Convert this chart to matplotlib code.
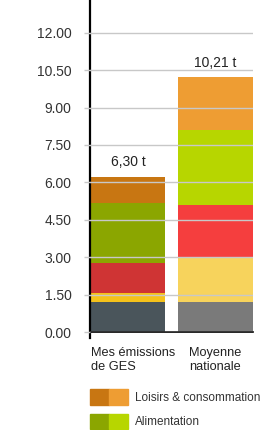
import matplotlib
matplotlib.use("Agg")
import matplotlib.pyplot as plt
import matplotlib.transforms as mtransforms
from matplotlib.patches import Patch
from matplotlib.legend_handler import HandlerTuple

plt.rcParams["font.family"] = ["Liberation Sans", "DejaVu Sans"]

# -------------------------------------------------
# data (t CO2e)
# -------------------------------------------------
bars = ["Mes émissions\nde GES", "Moyenne\nnationale"]
totals = ["6,30 t", "10,21 t"]

# segments from bottom to top
segments = ["Transports", "Logement", "Services", "Alimentation", "Loisirs & consommation"]
mine = [1.20, 0.36, 1.21, 2.40, 1.05]
national = [1.20, 1.80, 2.10, 3.01, 2.10]

colors_mine = ["#4a555b", "#f5c21b", "#cf3434", "#8ba600", "#c87612"]
colors_nat = ["#7a7a7a", "#f7d35c", "#f53e3e", "#b7d600", "#ee9d33"]

yticks = [0, 1.5, 3, 4.5, 6, 7.5, 9, 10.5, 12]

# -------------------------------------------------
# figure
# -------------------------------------------------
fig = plt.figure(figsize=(2.74, 4.30), dpi=100)
ax = fig.add_axes([90 / 274, 1 - 332 / 430, 163 / 274, 332 / 430])

bottom_m = 0
bottom_n = 0
for i in range(len(segments)):
    ax.bar(0, mine[i], bottom=bottom_m, width=0.85, color=colors_mine[i], zorder=1)
    ax.bar(1, national[i], bottom=bottom_n, width=0.85, color=colors_nat[i], zorder=1)
    bottom_m += mine[i]
    bottom_n += national[i]

for x, top, txt in zip([0, 1], [bottom_m, bottom_n], totals):
    ax.annotate(txt, (x, top), xytext=(0, 5.5), textcoords="offset points",
                ha="center", va="bottom", fontsize=10, color="#222222")

ax.set_xlim(-0.435, 1.43)
ax.set_ylim(0, 13.31)
ax.set_yticks(yticks)
ax.set_yticklabels([f"{v:.2f}" for v in yticks])
ax.grid(axis="y", color="#c8c8c8", linewidth=1, zorder=2)
ax.set_axisbelow(False)
ax.tick_params(axis="y", length=4.3, width=1, color="#c8c8c8",
               labelsize=10, labelcolor="#333333", pad=9)
ax.yaxis.get_major_ticks()[0].tick1line.set_color("black")

ax.set_xticks([0, 1])
ax.set_xticklabels(bars, fontsize=9.2, color="#222222", multialignment="left")
ax.tick_params(axis="x", length=0, pad=11)
# first label sits a bit right of the bar centre
lab0 = ax.get_xticklabels()[0]
lab0.set_transform(lab0.get_transform() + mtransforms.ScaledTranslation(5 / 100, 0, fig.dpi_scale_trans))

for s in ["top", "right"]:
    ax.spines[s].set_visible(False)
ax.spines["left"].set_linewidth(1.6)
ax.spines["left"].set_bounds(-0.25, 13.31)
ax.spines["bottom"].set_linewidth(1.2)

# -------------------------------------------------
# legend (two tones per category)
# -------------------------------------------------
handles = [
    (Patch(color=colors_mine[4]), Patch(color=colors_nat[4])),
    (Patch(color=colors_mine[3]), Patch(color=colors_nat[3])),
]
labels = [segments[4], segments[3]]
fig.legend(handles, labels, handler_map={tuple: HandlerTuple(ndivide=None, pad=0)},
           loc="upper left", bbox_to_anchor=(85 / 274, 1 - 384 / 430),
           frameon=False, fontsize=8.5, labelcolor="#333333",
           handlelength=3.2, handleheight=1.7, handletextpad=0.6,
           labelspacing=0.75, borderaxespad=0)

fig.savefig("out.png", dpi=100)
plt.close()
